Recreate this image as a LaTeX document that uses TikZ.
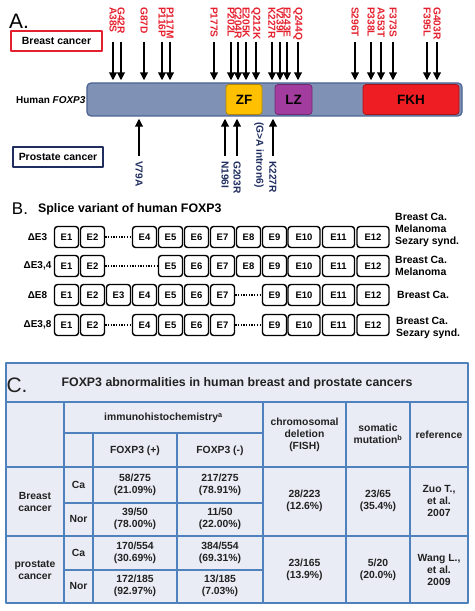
\documentclass[tikz,border=0pt]{standalone}
\usepackage{fontspec}
\setmainfont{Liberation Sans}
\usetikzlibrary{arrows.meta}

\begin{document}
\begin{tikzpicture}[x=1bp, y=-1bp, line join=round]
  \definecolor{mutred}{HTML}{E5202E}
  \definecolor{navy}{HTML}{1F2D5F}
  \definecolor{barblue}{HTML}{7F92B6}
  \definecolor{bardark}{HTML}{4C6392}
  \definecolor{zfgold}{HTML}{FFC000}
  \definecolor{lzpurple}{HTML}{A23C9E}
  \definecolor{fkhred}{HTML}{EE1D23}
  \definecolor{gridblue}{HTML}{4F81BD}
  \definecolor{tablebg}{HTML}{E9ECF4}
  \definecolor{cellink}{HTML}{222222}
  \path[use as bounding box] (0,0) rectangle (475,611);
  \fill[white] (0,0) rectangle (475,611);
  \tikzset{
    panel/.style={font=\fontsize{#1}{#1}\selectfont, inner sep=0pt},
    cohort/.style={draw=#1, line width=2bp, minimum width=90bp, minimum height=20bp,
      font=\bfseries\fontsize{10.5}{12}\selectfont, inner sep=0pt},
    domain/.style={draw=#1!70!black, fill=#1, line width=.8bp, rounded corners=3bp,
      minimum height=30bp, inner sep=0pt, font=\bfseries\fontsize{13.5}{14}\selectfont},
    mutlabel/.style={text=#1, font=\bfseries\fontsize{10.2}{11}\selectfont,
      rotate=-90, anchor=west, inner sep=0pt},
    mutarrow/.style={-{Triangle[length=8bp,width=7.5bp]}, line width=2.3bp, shorten >=2bp},
    exon/.style={draw, line width=1.4bp, rounded corners=3bp, minimum height=21bp,
      inner sep=0pt, font=\bfseries\fontsize{9.5}{11}\selectfont},
    gapline/.style={line width=1.3bp, dash pattern=on 1.3bp off 1.4bp},
    variant/.style={font=\bfseries\fontsize{10}{12}\selectfont, inner sep=0pt},
    disease/.style={anchor=west, align=left, inner sep=0pt,
      font=\bfseries\fontsize{10.5}{12}\selectfont},
    grid/.style={draw=gridblue, line width=1.6bp},
    cell/.style={align=center, inner sep=0pt, text=cellink,
      font=\bfseries\fontsize{10.4}{12}\selectfont}
  }
  % A. FOXP3 protein with the mutations found in each cancer
  \node[panel=21] (pa) at (19,21) {A.};
  \node[cohort=mutred] (breast) at (56.5,41) {Breast cancer};
  \node[cohort=navy] (prostate) at (58,157) {Prostate cancer};
  \node[anchor=west, inner sep=0pt, font=\bfseries\fontsize{10}{12}\selectfont] (human) at (16,100) {Human \textit{FOXP3}};
  \node[draw=bardark, fill=barblue, line width=1.2bp, rounded corners=4bp,
    minimum width=375bp, minimum height=33bp, inner sep=0pt] (bar) at (274.5,99.5) {};
  \node[domain=zfgold, minimum width=36bp] (zf) at (244,99.5) {ZF};
  \node[domain=lzpurple, minimum width=37bp] (lz) at (293.5,99.5) {LZ};
  \node[domain=fkhred, minimum width=96bp] (fkh) at (411,99.5) {FKH};
  % mutations in breast cancer, above the protein
  \node[mutlabel=mutred] (a38s) at (113,7) {A38S};
  \node[mutlabel=mutred] (g42r) at (121,7) {G42R};
  \node[mutlabel=mutred] (g87d) at (144,7) {G87D};
  \node[mutlabel=mutred] (p116p) at (162,7) {P116P};
  \node[mutlabel=mutred] (p117m) at (170,7) {P117M};
  \node[mutlabel=mutred] (p177s) at (214,7) {P177S};
  \node[mutlabel=mutred] (p202l) at (231,7) {P202L};
  \node[mutlabel=mutred] (c204r) at (238,7) {C204R};
  \node[mutlabel=mutred] (e205k) at (246,7) {E205K};
  \node[mutlabel=mutred] (q212k) at (256,7) {Q212K};
  \node[mutlabel=mutred] (k227r) at (272,7) {K227R};
  \node[mutlabel=mutred] (v239i) at (280,7) {V239I};
  \node[mutlabel=mutred] (e243e) at (287,7) {E243E};
  \node[mutlabel=mutred] (q244q) at (298,7) {Q244Q};
  \node[mutlabel=mutred] (s296t) at (355,7) {S296T};
  \node[mutlabel=mutred] (p338l) at (371,7) {P338L};
  \node[mutlabel=mutred] (a353t) at (381,7) {A353T};
  \node[mutlabel=mutred] (f373s) at (393,7) {F373S};
  \node[mutlabel=mutred] (f395l) at (427,7) {F395L};
  \node[mutlabel=mutred] (g403r) at (437,7) {G403R};
  \coordinate (btail) at (0,42);
  \foreach \m in {a38s,g42r,g87d,p116p,p117m,p177s,p202l,c204r,e205k,q212k,
      k227r,v239i,e243e,q244q,s296t,p338l,a353t,f373s,f395l,g403r}
    \draw[mutarrow] (\m.east |- btail) -- (\m.east |- bar.north);
  % mutations in prostate cancer, below the protein
  \node[mutlabel=navy] (v79a) at (139,161) {V79A};
  \node[mutlabel=navy] (n196i) at (225,161) {N196I};
  \node[mutlabel=navy] (g203r) at (237,161) {G203R};
  \node[mutlabel=navy] (k227rp) at (273,161) {K227R};
  \node[mutlabel=navy] (intron) at (259,122) {(G>A intron6)};
  \coordinate (ptail) at (0,156);
  \foreach \m in {v79a,n196i,g203r,k227rp}
    \draw[mutarrow] (\m.west |- ptail) -- (\m.west |- bar.south);
  % B. splice variants
  \node[panel=17] (pb) at (20,209) {B.};
  \node[anchor=west, inner sep=0pt, font=\bfseries\fontsize{12.4}{14}\selectfont] (btitle) at (38,209) {Splice variant of human FOXP3};
  \foreach \row/\y/\exons in {d3/237/{1,2,4,5,6,7,8,9,10,11,12},
      d34/266/{1,2,5,6,7,8,9,10,11,12}, d8/295/{1,2,3,4,5,6,7,9,10,11,12},
      d38/325/{1,2,4,5,6,7,9,10,11,12}}
    \foreach \e in \exons {
      \pgfmathsetmacro\ex{\e<10 ? 66.5+26*(\e-1) : 304+34.5*(\e-10)}
      \pgfmathsetmacro\ew{\e<10 ? 24 : 32}
      \node[exon, minimum width=\ew bp] (\row-\e) at (\ex,\y) {E\e};
    }
  \draw[gapline] (d3-2) -- (d3-4);
  \draw[gapline] (d34-2) -- (d34-5);
  \draw[gapline] (d8-7) -- (d8-9);
  \draw[gapline] (d38-2) -- (d38-4);
  \draw[gapline] (d38-7) -- (d38-9);
  \node[variant] (v-d3) at (37.5,237) {ΔE3};
  \node[variant] (v-d34) at (37.5,266) {ΔE3,4};
  \node[variant] (v-d8) at (37.5,295) {ΔE8};
  \node[variant] (v-d38) at (37.5,325) {ΔE3,8};
  \node[disease] (s-d3) at (395,229.5) {Breast Ca.\\Melanoma\\Sezary synd.};
  \node[disease] (s-d34) at (395,266) {Breast Ca.\\Melanoma};
  \node[disease] (s-d8) at (397,295) {Breast Ca.};
  \node[disease] (s-d38) at (396,327.5) {Breast Ca.\\Sezary synd.};
  % C. table of FOXP3 abnormalities
  \fill[tablebg] (6,363) rectangle (468,603);
  \draw[grid] (6,402) -- (468,402) (6,467) -- (468,467) (6,536) -- (468,536);
  \draw[grid] (64,433) -- (263,433) (64,503) -- (263,503) (64,570) -- (263,570);
  \draw[grid] (64,402) -- (64,603) (263,402) -- (263,603)
    (346,402) -- (346,603) (410,402) -- (410,603);
  \draw[grid] (93,433) -- (93,603) (177,433) -- (177,603);
  \draw[grid, line width=2bp] (6,363) rectangle (468,603);
  \node[panel=21, text=cellink] (pc) at (17,385) {C.};
  \node[cell, font=\bfseries\fontsize{12.4}{14}\selectfont] (t-title) at (237,383) {FOXP3 abnormalities in human breast and prostate cancers};
  \node[cell] (t-ihc) at (163.5,418) {immunohistochemistry\textsuperscript{a}};
  \node[cell] (t-pos) at (135,451) {FOXP3 (+)};
  \node[cell] (t-neg) at (220,451) {FOXP3 (-)};
  \node[cell] (t-fish) at (304.5,435) {chromosomal\\deletion\\(FISH)};
  \node[cell] (t-som) at (378,434) {somatic\\mutation\textsuperscript{b}};
  \node[cell] (t-ref) at (439,435) {reference};
  \node[cell] (t-breast) at (35,502) {Breast\\cancer};
  \node[cell] (t-prost) at (35,570) {prostate\\cancer};
  \node[cell] (t-bca) at (78.5,485) {Ca};
  \node[cell] (t-bnor) at (78.5,519) {Nor};
  \node[cell] (t-pca) at (78.5,553) {Ca};
  \node[cell] (t-pnor) at (78.5,586) {Nor};
  \node[cell] (t-bcapos) at (135,485) {58/275\\(21.09\%)};
  \node[cell] (t-bcaneg) at (220,485) {217/275\\(78.91\%)};
  \node[cell] (t-bnorpos) at (135,519) {39/50\\(78.00\%)};
  \node[cell] (t-bnorneg) at (220,519) {11/50\\(22.00\%)};
  \node[cell] (t-pcapos) at (135,553) {170/554\\(30.69\%)};
  \node[cell] (t-pcaneg) at (220,553) {384/554\\(69.31\%)};
  \node[cell] (t-pnorpos) at (135,586) {172/185\\(92.97\%)};
  \node[cell] (t-pnorneg) at (220,586) {13/185\\(7.03\%)};
  \node[cell] (t-bfish) at (304.5,501) {28/223\\(12.6\%)};
  \node[cell] (t-bsom) at (378,501) {23/65\\(35.4\%)};
  \node[cell] (t-bref) at (439,501) {Zuo T.,\\et al.\\2007};
  \node[cell] (t-pfish) at (304.5,570) {23/165\\(13.9\%)};
  \node[cell] (t-psom) at (378,570) {5/20\\(20.0\%)};
  \node[cell] (t-pref) at (439,570) {Wang L.,\\et al.\\2009};
\end{tikzpicture}
\end{document}
